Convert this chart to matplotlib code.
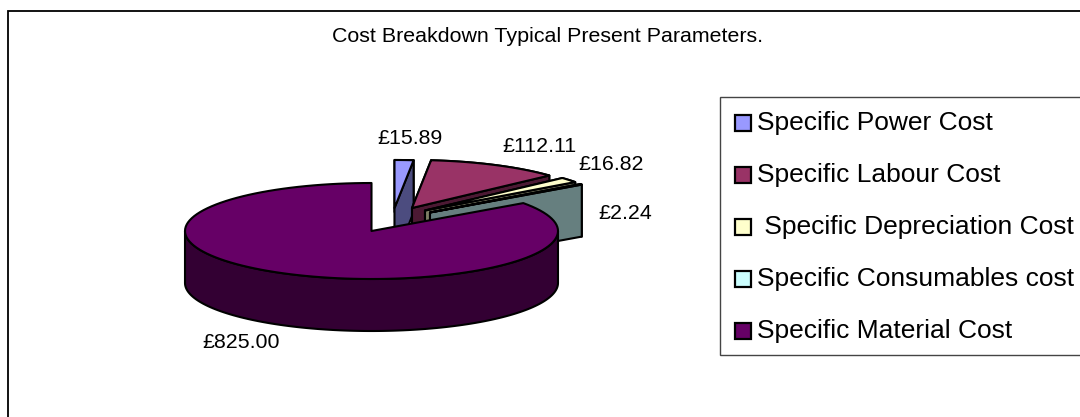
import numpy as np
import matplotlib
matplotlib.use("Agg")
import matplotlib.pyplot as plt
from matplotlib.patches import Polygon, Rectangle

plt.rcParams['font.family'] = ['Liberation Sans', 'DejaVu Sans']

# ---- data ----
title = "Cost Breakdown Typical Present Parameters."
categories = ["Specific Power Cost", "Specific Labour Cost", " Specific Depreciation Cost",
              "Specific Consumables cost", "Specific Material Cost"]
values = [15.89, 112.11, 16.82, 2.24, 825.00]
value_labels = ["£15.89", "£112.11", "£16.82", "£2.24", "£825.00"]

# ---- style ----
top_colors = ["#9999FF", "#993366", "#FFFFCC", "#CCFFFF", "#660066"]
side_colors = ["#4C4C7F", "#4C1933", "#7F7F66", "#667F7F", "#330033"]
slice_centres = [(394.5, 208), (412, 208), (425, 210.5), (430, 212.5), (371.5, 231)]
label_pos = [(410, 139), (539, 146), (611, 164), (625, 213), (241.5, 343)]
RX, RY, DEPTH = 186.5, 48, 52

fig = plt.figure(figsize=(10.8, 4.17), dpi=100, facecolor="white")
ax = fig.add_axes([0, 0, 1, 1])
ax.set_xlim(0, 1080)
ax.set_ylim(417, 0)
ax.axis("off")

# chart frame (runs off the right and bottom of the image)
ax.plot([7.5, 7.5, 1081], [418, 11, 11], color="black", lw=1.3, solid_joinstyle="miter", zorder=1)
ax.text(547, 36, title, ha="center", va="center", fontsize=15.4, color="black")


def rim(cx, cy, a0, a1, n=120):
    t = np.radians(np.linspace(a0, a1, n))
    return np.column_stack([cx + RX * np.sin(t), cy - RY * np.cos(t)])


edge = dict(edgecolor="black", linewidth=1.5, joinstyle="round")
z = 2
total = sum(values)
angle = 0.0
for v, top, side, (cx, cy) in zip(values, top_colors, side_colors, slice_centres):
    sweep = 360.0 * v / total
    a0, a1 = angle, angle + sweep
    angle = a1
    arc = rim(cx, cy, a0, a1)
    apex = np.array([cx, cy])
    down = np.array([0, DEPTH])
    # start cut, outer wall, end cut, then top face (painter's order)
    faces = [np.array([apex, arc[0], arc[0] + down, apex + down]),
             np.vstack([arc, (arc + down)[::-1]]),
             np.array([apex, arc[-1], arc[-1] + down, apex + down])]
    if v == max(values):
        # only the front of the large slice's wall is visible
        t0 = max(a0, 90.0)
        t1 = min(a1, 270.0)
        front = rim(cx, cy, t0, t1)
        faces = [np.vstack([front, (front + down)[::-1]])]
    for f in faces:
        ax.add_patch(Polygon(f, closed=True, facecolor=side, zorder=z, **edge))
        z += 1
    ax.add_patch(Polygon(np.vstack([apex, arc]), closed=True, facecolor=top, zorder=z, **edge))
    z += 1

for lab, (x, y) in zip(value_labels, label_pos):
    ax.text(x, y, lab, ha="center", va="center", fontsize=15.4, color="black", zorder=100)

# legend
ax.add_patch(Rectangle((720, 97), 400, 258, facecolor="white", edgecolor="#444444", lw=1.0, zorder=50))
for i, (name, col) in enumerate(zip(categories, top_colors)):
    y = 123 + i * 52
    ax.add_patch(Rectangle((734.5, y - 8), 16, 16, facecolor=col, edgecolor="black", lw=1.6, zorder=51))
    ax.text(757, y, name, ha="left", va="center", fontsize=19.0, color="black", zorder=52)

fig.savefig("out.png", dpi=100, facecolor="white")
